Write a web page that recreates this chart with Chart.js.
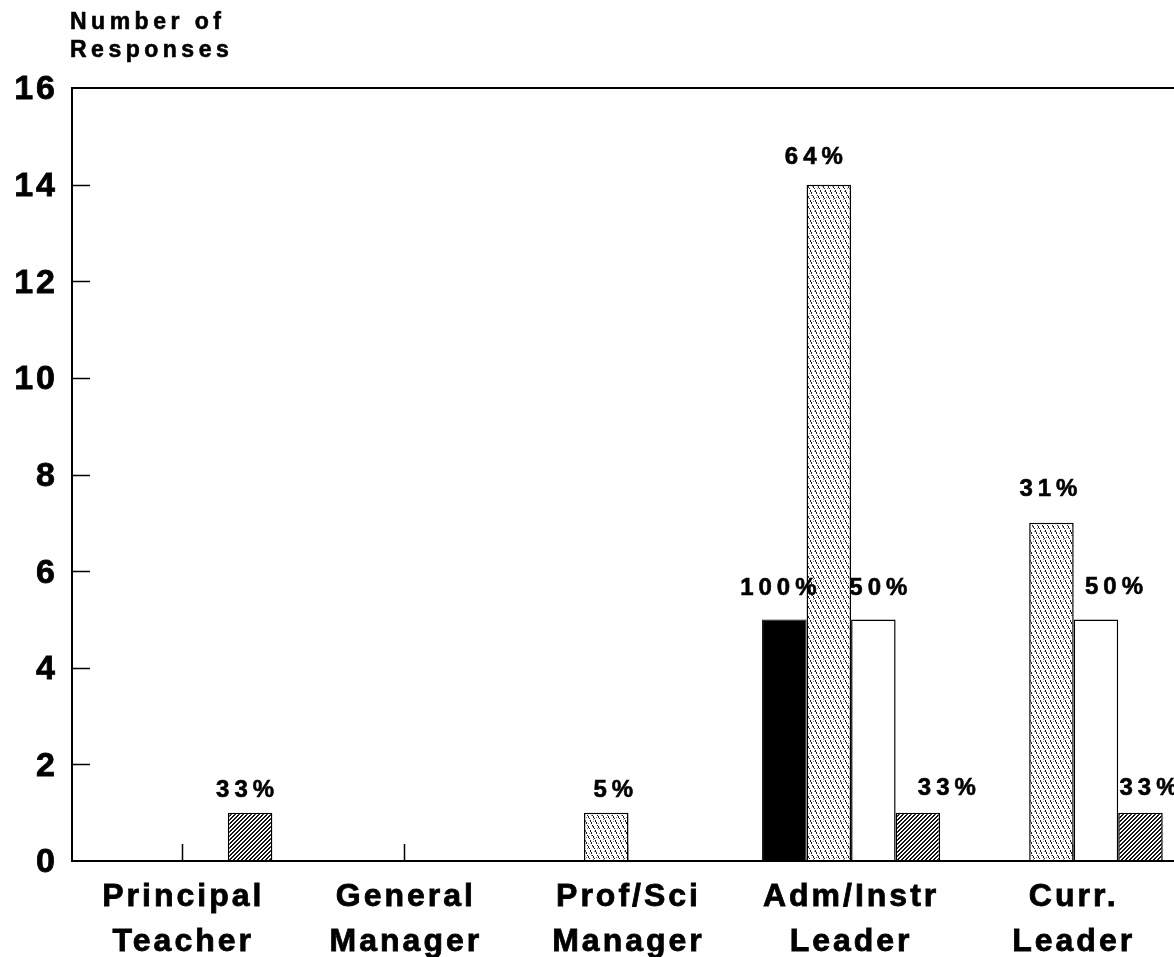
<!DOCTYPE html>
<html>
<head>
<meta charset="utf-8">
<script src="https://cdn.jsdelivr.net/npm/chart.js@4"></script>
<style>
  html, body { margin: 0; padding: 0; background: #fff; overflow: hidden; }
  #wrap { width: 1200px; height: 957px; }
</style>
</head>
<body>
<div id="wrap"><canvas id="myChart" width="1200" height="957"></canvas></div>
<script>
// categories and counts per group
var categories = [
  ['Principal', 'Teacher'],
  ['General', 'Manager'],
  ['Prof/Sci', 'Manager'],
  ['Adm/Instr', 'Leader'],
  ['Curr.', 'Leader']
];
var solidCounts   = [null, null, null, 5, null];
var dottedCounts  = [null, null, 1, 14, 7];
var openCounts    = [null, null, null, 5, 5];
var hatchedCounts = [1, null, null, 1, 1];

// percent written above each bar
var solidPct   = [null, null, null, '100%', null];
var dottedPct  = [null, null, '5%', '64%', '31%'];
var openPct    = [null, null, null, '50%', '50%'];
var hatchedPct = ['33%', null, null, '33%', '33%'];

var yTicks = [0, 2, 4, 6, 8, 10, 12, 14, 16];

var FONT = '"Liberation Sans", Arial, sans-serif';

// stippled fill with steep dashed "\" streaks
function dottedFill() {
  var c = document.createElement('canvas');
  c.width = 10; c.height = 20;
  var g = c.getContext('2d');
  g.fillStyle = '#fff';
  g.fillRect(0, 0, 10, 20);
  for (var y = 0; y < 20; y++) {
    for (var k = 0; k < 2; k++) {
      var x = (Math.floor(y / 2) + k * 5) % 10;
      if (y % 5 == 4) continue;
      g.fillStyle = '#1a1a1a';
      g.fillRect(x, y, 1, 1);
    }
  }
  g.fillStyle = '#8a8a8a';
  var dots = [[3,1],[8,3],[2,6],[7,8],[4,11],[9,13],[1,15],[6,17],[3,19]];
  dots.forEach(function(d) { g.fillRect(d[0], d[1], 1, 1); });
  return g.createPattern(c, 'repeat');
}

// dense "/" hatch
function hatchFill() {
  var c = document.createElement('canvas');
  c.width = 4; c.height = 4;
  var g = c.getContext('2d');
  g.fillStyle = '#fff';
  g.fillRect(0, 0, 4, 4);
  g.fillStyle = '#111';
  for (var y = 0; y < 4; y++) {
    for (var x = 0; x < 4; x++) {
      if ((x + y) % 4 < 2) g.fillRect(x, y, 1, 1);
    }
  }
  return g.createPattern(c, 'repeat');
}

var pctLabels = [solidPct, dottedPct, openPct, hatchedPct];
// label placement: [shift from bar centre, gap above bar top]
var pctPlace = [
  [null, null, null, [-6, 24], null],
  [null, null, [7, 16], [-15, 21], [-3, 27]],
  [null, null, null, [5, 24], [18, 25]],
  [[-5, 16], null, null, [29, 18], [8, 18]]
];

// short inward tick marks on both axes
var axisMarks = {
  id: 'axisMarks',
  beforeDatasetsDraw: function(chart) {
    var ctx = chart.ctx, area = chart.chartArea;
    var x = chart.scales.x, y = chart.scales.y;
    ctx.save();
    ctx.strokeStyle = '#000';
    ctx.lineWidth = 1.5;
    ctx.beginPath();
    for (var i = 0; i < x.ticks.length; i++) {
      var px = Math.floor(x.getPixelForTick(i)) - 0.5;
      ctx.moveTo(px, area.bottom);
      ctx.lineTo(px, area.bottom - 17);
    }
    y.ticks.forEach(function(t) {
      if (t.value == 0 || t.value == 16) return;
      var py = Math.round(y.getPixelForValue(t.value)) + 0.5;
      ctx.moveTo(area.left, py);
      ctx.lineTo(area.left + 18, py);
    });
    ctx.stroke();
    ctx.restore();
  }
};

// percentages over the bars
var pctText = {
  id: 'pctText',
  afterDatasetsDraw: function(chart) {
    var ctx = chart.ctx;
    ctx.save();
    ctx.letterSpacing = '5px';
    ctx.font = 'bold 24px ' + FONT;
    ctx.fillStyle = '#000';
    ctx.strokeStyle = '#000';
    ctx.lineWidth = 0.6;
    ctx.textAlign = 'center';
    ctx.textBaseline = 'alphabetic';
    pctLabels.forEach(function(list, d) {
      var meta = chart.getDatasetMeta(d);
      meta.data.forEach(function(bar, i) {
        if (!list[i] || bar.y == null || isNaN(bar.y)) return;
        var p = pctPlace[d][i] || [0, 20];
        var tx = bar.x + 2.5 + p[0], ty = bar.y - p[1];
        ctx.fillText(list[i], tx, ty);
        ctx.strokeText(list[i], tx, ty);
      });
    });
    ctx.restore();
  }
};

// axis caption above the value axis
var caption = {
  id: 'caption',
  beforeDraw: function(chart) {
    chart.ctx.letterSpacing = '3px';
  },
  afterDraw: function(chart) {
    var ctx = chart.ctx;
    ctx.save();
    ctx.letterSpacing = '4.5px';
    ctx.font = 'bold 23px ' + FONT;
    ctx.fillStyle = '#000';
    ctx.strokeStyle = '#000';
    ctx.lineWidth = 0.6;
    ctx.textAlign = 'left';
    ctx.textBaseline = 'alphabetic';
    ctx.fillText('Number of', 70, 29);
    ctx.strokeText('Number of', 70, 29);
    ctx.fillText('Responses', 70, 57);
    ctx.strokeText('Responses', 70, 57);
    ctx.restore();
  }
};

var ctx = document.getElementById('myChart').getContext('2d');
var chart = new Chart(ctx, {
  type: 'bar',
  data: {
    labels: categories,
    datasets: [
      { label: 'Solid', data: solidCounts, backgroundColor: '#000', borderColor: '#000', borderWidth: 1 },
      { label: 'Dotted', data: dottedCounts, backgroundColor: dottedFill(), borderColor: '#000', borderWidth: 1.5 },
      { label: 'Open', data: openCounts, backgroundColor: '#fff', borderColor: '#000', borderWidth: 1.5 },
      { label: 'Hatched', data: hatchedCounts, backgroundColor: hatchFill(), borderColor: '#000', borderWidth: 1.5 }
    ]
  },
  options: {
    responsive: false,
    devicePixelRatio: 1,
    animation: false,
    events: [],
    layout: { padding: { top: 88, right: 15, left: 0, bottom: 0 } },
    datasets: { bar: { categoryPercentage: 0.8, barPercentage: 1.0 } },
    plugins: {
      legend: { display: false },
      title: { display: false },
      tooltip: { enabled: false }
    },
    scales: {
      x: {
        grid: { display: false },
        border: { display: true, color: '#000', width: 2 },
        ticks: {
          color: '#000',
          font: { family: FONT, size: 32, weight: 'bold', lineHeight: 1.43 },
          textStrokeColor: '#000',
          textStrokeWidth: 0.8,
          padding: 5,
          maxRotation: 0,
          autoSkip: false
        },
        afterFit: function(scale) { scale.height = 96; }
      },
      y: {
        min: 0,
        max: 16,
        afterBuildTicks: function(scale) {
          scale.ticks = yTicks.map(function(v) { return { value: v }; });
        },
        grid: {
          drawTicks: false,
          lineWidth: 2,
          color: function(c) { return c.tick && c.tick.value == 16 ? '#000' : 'rgba(0,0,0,0)'; }
        },
        border: { display: true, color: '#000', width: 2 },
        ticks: {
          color: '#000',
          font: { family: FONT, size: 34, weight: 'bold' },
          textStrokeColor: '#000',
          textStrokeWidth: 0.8,
          padding: 14,
          labelOffset: 2
        },
        afterFit: function(scale) { scale.width = 72; }
      }
    }
  },
  plugins: [axisMarks, pctText, caption]
});
</script>
</body>
</html>
